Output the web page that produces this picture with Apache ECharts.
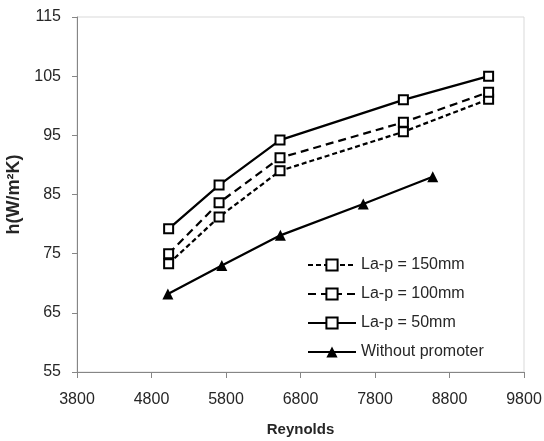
<!DOCTYPE html>
<html><head><meta charset="utf-8">
<script src="https://cdn.jsdelivr.net/npm/echarts@6/dist/echarts.min.js"></script>
<style>html,body{margin:0;padding:0;background:#fff}#c{width:544px;height:441px}</style>
</head><body><div id="c"></div>
<script>
// Data
const reynolds150 = [5030, 5707, 6525, 8181, 9325];
const h150 = [73.3, 81.2, 89.0, 95.6, 101.1];
const reynolds100 = [5030, 5707, 6525, 8181, 9325];
const h100 = [75.0, 83.6, 91.2, 97.2, 102.3];
const reynolds50 = [5030, 5707, 6525, 8181, 9325];
const h50 = [79.2, 86.6, 94.2, 101.0, 105.0];
const reynoldsWithout = [5020, 5744, 6530, 7642, 8575];
const hWithout = [68.2, 73.0, 78.1, 83.4, 88.0];
const seriesNames = ['La-p = 150mm', 'La-p = 100mm', 'La-p = 50mm', 'Without promoter'];
const xTicks = [3800, 4800, 5800, 6800, 7800, 8800, 9800];
const yTicks = [55, 65, 75, 85, 95, 105, 115];
const xTitle = 'Reynolds';
const yTitle = 'h(W/m²K)';

const zip = (xs, ys) => xs.map((x, i) => [x, ys[i]]);
const FONT = '"Liberation Sans", Arial, sans-serif';
const TXT = '#262626';
const AXIS = '#868686';

const squareSeries = (name, xs, ys, dash) => ({
  name, type: 'line', data: zip(xs, ys),
  symbol: 'rect', symbolSize: 9,
  itemStyle: { color: '#fff', borderColor: '#000', borderWidth: 2 },
  lineStyle: { color: '#000', width: 2.25, type: dash },
  emphasis: { disabled: true }
});

const chart = echarts.init(document.getElementById('c'), null, { renderer: 'canvas' });
chart.setOption({
  animation: false,
  backgroundColor: '#fff',
  grid: { left: 77, right: 20, top: 17, bottom: 69, show: true, borderColor: '#d9d9d9', borderWidth: 1, containLabel: false, outerBoundsMode: 'none' },
  xAxis: {
    type: 'value', min: xTicks[0], max: xTicks[xTicks.length - 1], interval: 1000,
    name: xTitle, nameLocation: 'middle', nameGap: 50,
    nameTextStyle: { fontFamily: FONT, fontSize: 15, fontWeight: 'bold', color: TXT },
    axisLine: { show: true, lineStyle: { color: AXIS, width: 1 } },
    axisTick: { show: true, length: 6, lineStyle: { color: AXIS }, customValues: xTicks },
    axisLabel: { fontFamily: FONT, fontSize: 16, color: TXT, margin: 20, customValues: xTicks, formatter: v => String(v) },
    splitLine: { show: false }
  },
  yAxis: {
    type: 'value', min: yTicks[0], max: yTicks[yTicks.length - 1], interval: 10,
    name: yTitle, nameLocation: 'middle', nameGap: 45,
    nameTextStyle: { fontFamily: FONT, fontSize: 18, fontWeight: 'bold', color: TXT },
    axisLine: { show: true, lineStyle: { color: AXIS, width: 1 } },
    axisTick: { show: true, length: 5, lineStyle: { color: AXIS }, customValues: yTicks },
    axisLabel: { fontFamily: FONT, fontSize: 16, color: TXT, margin: 16, customValues: yTicks, formatter: v => String(v) },
    splitLine: { show: false }
  },
  legend: {
    orient: 'vertical', left: 307, top: 257, padding: 0,
    itemWidth: 48, itemHeight: 14, itemGap: 13,
    textStyle: { fontFamily: FONT, fontSize: 16, color: TXT },
    data: seriesNames
  },
  series: [
    squareSeries(seriesNames[0], reynolds150, h150, [5, 3]),
    squareSeries(seriesNames[1], reynolds100, h100, [8, 5]),
    squareSeries(seriesNames[2], reynolds50, h50, 'solid'),
    {
      name: seriesNames[3], type: 'line', data: zip(reynoldsWithout, hWithout),
      symbol: 'triangle', symbolSize: 11,
      itemStyle: { color: '#000' },
      lineStyle: { color: '#000', width: 2.25 },
      emphasis: { disabled: true }
    }
  ]
});
</script>
</body></html>
